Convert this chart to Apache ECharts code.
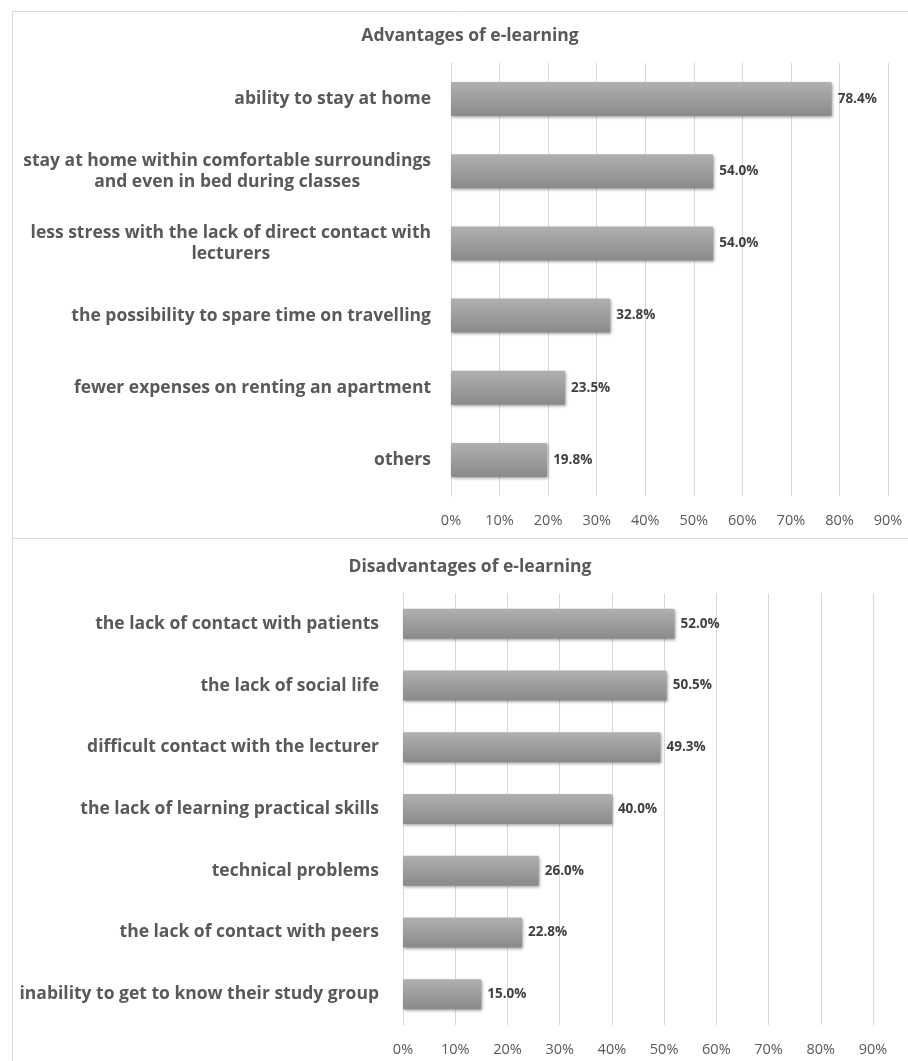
<!DOCTYPE html>
<html>
<head>
<meta charset="utf-8">
<script src="https://cdn.jsdelivr.net/npm/echarts@6/dist/echarts.min.js"></script>
<style>
html,body{margin:0;padding:0;background:#fff;}
#chart{width:908px;height:1061px;}
</style>
</head>
<body>
<div id="chart"></div>
<script>
var advTitle = 'Advantages of e-learning';
var advCategories = [
  'ability to stay at home',
  'stay at home within comfortable surroundings\nand even in bed during classes',
  'less stress with the lack of direct contact with\nlecturers',
  'the possibility to spare time on travelling',
  'fewer expenses on renting an apartment',
  'others'
];
var advValues = [78.4, 54.0, 54.0, 32.8, 23.5, 19.8];

var disTitle = 'Disadvantages of e-learning';
var disCategories = [
  'the lack of contact with patients',
  'the lack of social life',
  'difficult contact with the lecturer',
  'the lack of learning practical skills',
  'technical problems',
  'the lack of contact with peers',
  'inability to get to know their study group'
];
var disValues = [52.0, 50.5, 49.3, 40.0, 26.0, 22.8, 15.0];

var xTicks = ['0%','10%','20%','30%','40%','50%','60%','70%','80%','90%'];

var FONT = '"Open Sans", sans-serif';
var chart = echarts.init(document.getElementById('chart'));

function barStyle() {
  return {
    color: new echarts.graphic.LinearGradient(0, 0, 0, 1, [
      {offset: 0, color: '#b0b0b0'},
      {offset: 1, color: '#8a8a8a'}
    ]),
    borderRadius: 1,
    shadowColor: 'rgba(0,0,0,0.35)',
    shadowBlur: 3,
    shadowOffsetX: 1,
    shadowOffsetY: 1.5
  };
}

function xAxis(gi) {
  return {
    type: 'value', gridIndex: gi, min: 0, max: 90, interval: 10,
    axisLine: {show: false}, axisTick: {show: false},
    splitLine: {lineStyle: {color: '#d9d9d9', width: 1}},
    axisLabel: {
      margin: 17, color: '#595959', fontSize: 14.5, fontFamily: FONT,
      formatter: function (v) { return xTicks[Math.round(v / 10)]; }
    }
  };
}

function yAxis(gi, cats, margin) {
  return {
    type: 'category', gridIndex: gi, data: cats, inverse: true,
    axisLine: {show: true, lineStyle: {color: '#d9d9d9'}}, axisTick: {show: false},
    axisLabel: {
      margin: margin,
      formatter: function (v) {
        return v.split('\n').map(function (s) { return '{c|' + s + '}'; }).join('\n');
      },
      rich: {
        c: {align: 'center', color: '#595959', fontSize: 17.5, fontWeight: 'bold', fontFamily: FONT, lineHeight: 21}
      }
    }
  };
}

var option = {
  backgroundColor: '#ffffff',
  animation: false,
  graphic: [
    {type: 'rect', shape: {x: 12.5, y: 11.5, width: 900, height: 527}, style: {fill: 'none', stroke: '#d9d9d9', lineWidth: 1}},
    {type: 'rect', shape: {x: 12.5, y: 538.5, width: 900, height: 530}, style: {fill: 'none', stroke: '#d9d9d9', lineWidth: 1}}
  ],
  title: [
    {text: advTitle, left: 465, top: 22, textAlign: 'center',
     textStyle: {color: '#595959', fontSize: 17.5, fontWeight: 'bold', fontFamily: FONT}},
    {text: disTitle, left: 465, top: 553, textAlign: 'center',
     textStyle: {color: '#595959', fontSize: 17.5, fontWeight: 'bold', fontFamily: FONT}}
  ],
  grid: [
    {left: 451, right: 20, top: 63, height: 433},
    {left: 403, right: 35, top: 593, height: 432}
  ],
  xAxis: [xAxis(0), xAxis(1)],
  yAxis: [yAxis(0, advCategories, 20), yAxis(1, disCategories, 24)],
  series: [
    {
      type: 'bar', xAxisIndex: 0, yAxisIndex: 0, data: advValues, barWidth: 34,
      itemStyle: barStyle(),
      label: {show: true, position: 'right', distance: 6, color: '#404040', fontSize: 13.5, fontWeight: 'bold', fontFamily: FONT,
        formatter: function (p) { return p.value.toFixed(1) + '%'; }}
    },
    {
      type: 'bar', xAxisIndex: 1, yAxisIndex: 1, data: disValues, barWidth: 30,
      itemStyle: barStyle(),
      label: {show: true, position: 'right', distance: 6, color: '#404040', fontSize: 13.5, fontWeight: 'bold', fontFamily: FONT,
        formatter: function (p) { return p.value.toFixed(1) + '%'; }}
    }
  ]
};
chart.setOption(option);
</script>
</body>
</html>
